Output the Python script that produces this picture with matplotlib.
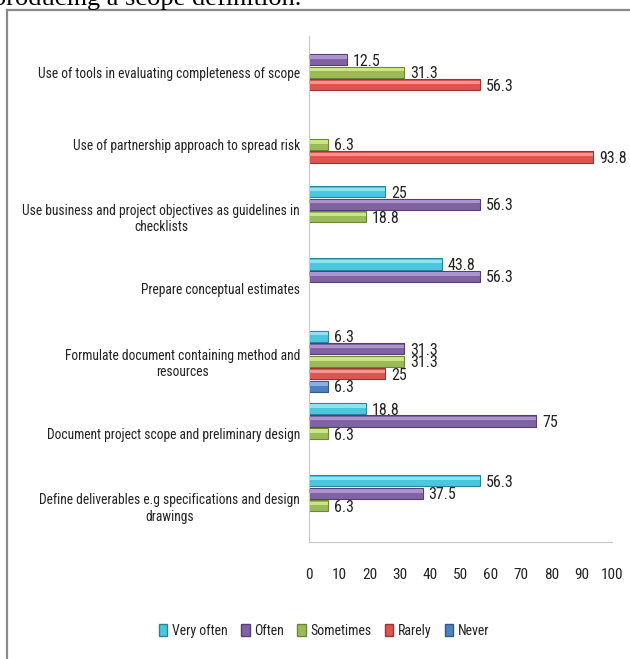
import matplotlib.pyplot as plt
import numpy as np
from matplotlib.patches import Patch
from matplotlib.lines import Line2D

categories = [
    'Use of tools in evaluating completeness of scope',
    'Use of partnership approach to spread risk',
    'Use business and project objectives as guidelines in\nchecklists',
    'Prepare conceptual estimates',
    'Formulate document containing method and\nresources',
    'Document project scope and preliminary design',
    'Define deliverables e.g specifications and design\ndrawings',
]
series_names = ['Very often', 'Often', 'Sometimes', 'Rarely', 'Never']
very_often = [0, 0, 25, 43.8, 6.3, 18.8, 56.3]
often = [12.5, 0, 56.3, 56.3, 31.3, 75, 37.5]
sometimes = [31.3, 6.3, 18.8, 0, 31.3, 6.3, 6.3]
rarely = [56.3, 93.8, 0, 0, 25, 0, 0]
never = [0, 0, 0, 0, 6.3, 0, 0]
xticks = [0, 10, 20, 30, 40, 50, 60, 70, 80, 90, 100]

series = [very_often, often, sometimes, rarely, never]
# main, light top, dark edge
colors = [('#4BC6DF', '#8FE4F2', '#2C8497'),
          ('#8064A2', '#AE93D3', '#553F78'),
          ('#9BBB59', '#CDE684', '#6C8636'),
          ('#DD5450', '#F29490', '#9E3532'),
          ('#4F81BD', '#86B1E6', '#32598A')]

plt.rcParams['font.family'] = ['Liberation Sans Narrow', 'Roboto Condensed', 'Liberation Sans']

fig = plt.figure(figsize=(6.3, 6.59), dpi=100)
ax = fig.add_axes([309 / 630, 1 - 542 / 659, 303 / 630, 506 / 659])

y = np.arange(len(categories))
slot = 0.173
bh = 0.155
for k, vals in enumerate(series):
    main, light, dark = colors[k]
    pos = y + (k - 2) * slot
    for yy, v in zip(pos, vals):
        if v == 0:
            continue
        ax.barh(yy + 0.014, v, height=bh, color='#d4d4d4', alpha=0.6, zorder=1)
        ax.barh(yy, v, height=bh, color=main, edgecolor=dark, linewidth=0.8, zorder=2)
        ax.barh(yy - bh * 0.22, v, height=bh * 0.3, color=light, linewidth=0, zorder=3)
        ax.text(v + 2, yy + 0.02, f'{v:g}', va='center', ha='left', fontsize=11.5,
                color='#222222', zorder=4)

ax.set_xlim(0, 100)
ax.set_ylim(len(categories) - 0.5, -0.5)
ax.set_yticks(y)
ax.set_yticklabels(categories, fontsize=11, ha='center', multialignment='center',
                   color='#222222')
ax.set_xticks(xticks)
ax.set_xticklabels([str(t) for t in xticks], fontsize=11, color='#222222')
ax.tick_params(axis='x', length=0, pad=19)
ax.tick_params(axis='y', length=0, pad=0)
for s in ['top', 'right']:
    ax.spines[s].set_visible(False)
ax.spines['left'].set_color('#c8c8c8')
ax.spines['bottom'].set_color('#c8c8c8')

# size category labels so the longest one spans ~276 px, as in the original
fig.canvas.draw()
renderer = fig.canvas.get_renderer()
widest = max(lab.get_window_extent(renderer).width for lab in ax.get_yticklabels())
fs = 11 * 276 / widest
for lab in ax.get_yticklabels():
    lab.set_fontsize(fs)

# right align label blocks at x=300px
fig.canvas.draw()
for lab in ax.get_yticklabels():
    bb = lab.get_window_extent(renderer)
    lab.set_transform(ax.get_yaxis_transform())
    lab.set_x(-(9 / 303) - bb.width / 2 / 303)

handles = [Patch(facecolor=c[0], edgecolor=c[2]) for c in colors]
fig.legend(handles, series_names, loc='center', bbox_to_anchor=(324 / 630, 1 - 631 / 659),
           ncol=5, frameon=False, prop={'size': 10},
           handlelength=0.6, handleheight=0.9, handletextpad=0.3, columnspacing=1.0,
           labelcolor='#222222')

# document frame and cropped caption above the chart
fig.add_artist(Line2D([7 / 630, 1], [1 - 10 / 659, 1 - 10 / 659], color='#8a8a8a', lw=1.6))
fig.add_artist(Line2D([7 / 630, 7 / 630], [0, 1 - 10 / 659], color='#8a8a8a', lw=1.6))
fig.text(-7 / 630, 1 - 5 / 659, 'producing a scope definition.', family='Liberation Serif',
         fontsize=19, va='baseline', ha='left')

fig.savefig('out.png', dpi=100)
